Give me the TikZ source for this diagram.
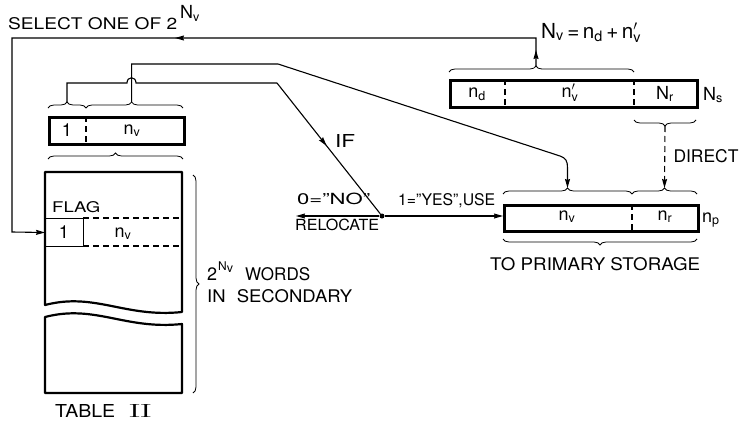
\documentclass[tikz,border=0pt]{standalone}
\usepackage{graphicx}
\usepackage{fontspec}
\setmainfont{TeX Gyre Heros}
\newfontfamily\lmr{Latin Modern Roman}
\usetikzlibrary{decorations.pathreplacing,decorations.markings,arrows.meta}
\newcommand\capt[3]{\resizebox{#1pt}{#2pt}{#3}}
\newcommand\lsub[1]{$_{\hbox{\fontsize{12.5}{12.5}\selectfont #1}}$}
\newcommand\lsubp[1]{$'_{\hbox{\fontsize{12.5}{12.5}\selectfont #1}}$}
\tikzset{
  reg/.style={draw, line width=2.6pt, inner sep=0pt, anchor=north west},
  ln/.style={line width=1.1pt},
  brc/.style={decorate, decoration={brace, amplitude=6pt, aspect=#1}, line width=0.8pt},
  brc/.default=0.5,
  lbl/.style={font=\fontsize{18}{20}\selectfont, inner sep=0pt},
  tip/.style={-{Stealth[length=9pt,width=5pt,inset=1pt]}},
  dsh/.style={dash pattern=on 6pt off 4pt},
}
\begin{document}
\begin{tikzpicture}[x=1pt,y=-1pt]
\useasboundingbox (0,0) rectangle (742,423);

% ---- top left small register
\node[reg, minimum width=135pt, minimum height=27pt] (sreg) at (48,116) {};
\draw[ln, dsh] (86,116) -- (86,143);
\node[lbl, anchor=base] (s1) at (67,136) {1};
\node[lbl, anchor=base] (snv) at (132,134) {n\lsub{v}};
\draw[brc] (48,108) -- (86,108);
\draw[brc=0.47] (86,108) -- (183,108);
\coordinate (t1) at (67,102);
\coordinate (t2) at (131.6,102);
\draw[brc] (48,159) -- (183,159);

% ---- table II
\draw[line width=2.2pt, line join=round] (45,305) -- (45,172) -- (182,172) -- (182,312)
  .. controls (125,318) and (95,292) .. (45,305) -- cycle;
\draw[line width=2.2pt, line join=round] (45,317) .. controls (95,304) and (125,330) .. (182,324)
  -- (182,393) -- (45,393) -- cycle;
\node[draw, line width=1pt, minimum width=38pt, minimum height=28pt, inner sep=0pt, anchor=north west] (flag) at (45,218) {};
\draw[ln, dsh] (83,218) -- (182,218);
\draw[ln, dsh] (83,246) -- (182,246);
\node[lbl, anchor=base] (f1) at (64,238) {1};
\node[lbl, anchor=base] (fnv) at (123,237) {n\lsub{v}};
\node[lbl, anchor=base west] (flaglbl) at (52,212) {\capt{48}{11}{FLAG}};
\draw[brc, line width=0.8pt] (193,175) -- (193,393);
\node[lbl, anchor=base west] (two) at (207,280) {2};
\node[anchor=base west, inner sep=0pt, font=\fontsize{12}{12}\selectfont] (twosup) at (218,270) {N\lsub{v}};
\node[lbl, anchor=base west] (words) at (245,280) {\capt{65}{13}{WORDS}};
\node[lbl, anchor=base west] (insec) at (207,302) {\capt{145}{13}{IN\hspace{0.6em}SECONDARY}};
\node[lbl, anchor=base west] (tab) at (55,417) {\capt{60}{13}{TABLE}};
\node[lbl, anchor=base west] (tab2) at (128,417) {\capt{24}{13}{\lmr I\kern-0.9pt I}};

% ---- top right register N_s
\node[reg, minimum width=247pt, minimum height=27pt] (nsreg) at (449,79) {};
\draw[ln, dsh] (505,79) -- (505,106);
\draw[ln, dsh] (634,79) -- (634,106);
\node[lbl, anchor=base] (nd) at (477,97) {n\lsub{d}};
\node[lbl, anchor=base] (nvp) at (570,97) {n\lsubp{v}};
\node[lbl, anchor=base] (nr) at (665,99) {N\lsub{r}};
\node[lbl, anchor=base west] (ns) at (703,100) {N\lsub{s}};
\draw[brc=0.47] (449,72) -- (634,72);
\coordinate (nsb) at (536,66);
\draw[brc] (696,120) -- (634,120);
\coordinate (nrb) at (665,126);
\node[lbl, anchor=base west] (nveq) at (541,38) {\resizebox{100pt}{!}{N\lsub{v}\,=\,n\lsub{d}\,+\,n\lsubp{v}}};

% ---- primary register
\node[reg, minimum width=194pt, minimum height=26pt] (preg) at (503,204) {};
\draw[ln, dsh] (632,204) -- (632,230);
\node[lbl, anchor=base] (pnv) at (567,220) {n\lsub{v}};
\node[lbl, anchor=base] (pnr) at (665,220) {n\lsub{r}};
\node[lbl, anchor=base west] (np) at (702,222) {n\lsub{p}};
\draw[brc] (503,194) -- (632,194);
\draw[brc] (632,194) -- (697,194);
\coordinate (pt1) at (567.5,188);
\coordinate (pt2) at (664.5,188);
\draw[brc] (697,239) -- (503,239);
\node[lbl, anchor=base west] (prim) at (490,270) {\capt{210}{13}{TO PRIMARY STORAGE}};

% ---- decision point
\node[circle, fill, inner sep=0pt, minimum size=5pt] (dot) at (382,216) {};
\coordinate (noend) at (296,216);
\node[lbl, anchor=base west] (nolbl) at (297,204) {\capt{73}{11.5}{0="NO"}};
\node[lbl, anchor=base west] (reloc) at (295,230) {\capt{84}{11.5}{RELOCATE}};
\node[lbl, anchor=base west] (yes) at (398,205) {\capt{97}{12}{1="YES",USE}};
\node[lbl, anchor=base west] (iflbl) at (335,147) {\capt{20}{13}{IF}};
\node[lbl, anchor=base] (direct) at (706,162) {\capt{65}{13}{DIRECT}};

% ---- connectors
\coordinate (a1) at (67,83);
\coordinate (a2) at (277,83);
\draw[ln] (t1) -- (a1) -- (127,83) .. controls (127,76) and (136,76) .. (136,83) -- (a2);
\draw[ln, postaction={decorate}, decoration={markings, mark=at position 0.48 with {\arrow{Stealth[length=9pt,width=5pt,inset=1pt]}}}] (a2) -- (dot);

\coordinate (b1) at (131.6,64);
\coordinate (b2) at (278,64);
\coordinate (b3) at (560,156);
\draw[ln, tip] (t2) -- (b1) -- (b2) -- (b3) .. controls (566,158) and (567.5,161) .. (567.5,168) -- (pt1);

\draw[ln, tip] (dot) -- (dot -| preg.west);
\draw[ln, tip] (dot) -- (noend);
\draw[ln, dsh, tip] (nrb) -- (pt2);

\coordinate (c1) at (536,38);
\coordinate (c2) at (12,38);
\coordinate (c3) at (12,232);
\draw[ln, tip, postaction={decorate}, decoration={markings,
   mark=at position 16pt with {\arrow{Stealth[length=9pt,width=5pt,inset=1pt]}},
   mark=at position 389pt with {\arrow{Stealth[length=9pt,width=5pt,inset=1pt]}}}]
   (nsb) -- (c1) -- (c2) -- (c3) -- (flag.west);

\node[lbl, anchor=base west] (sel) at (8,30) {\capt{169}{12}{SELECT ONE OF 2}};
\node[lbl, anchor=base west] (selsup) at (180,19) {N\lsub{v}};
\end{tikzpicture}
\end{document}
